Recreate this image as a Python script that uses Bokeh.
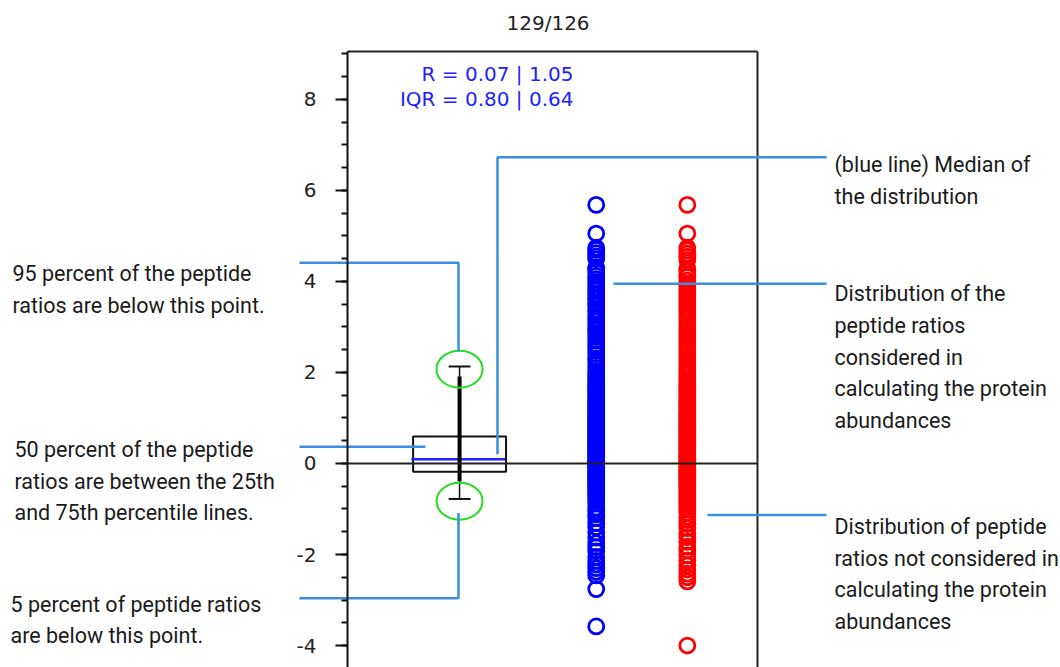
from bokeh.plotting import figure
from bokeh.models import Range1d, Label, FixedTicker, ColumnDataSource, LinearAxis
from bokeh.embed import file_html
from bokeh.resources import INLINE

# ---------------- data ----------------
title_text = "129/126"
stats_lines = ["R = 0.07 | 1.05", "IQR = 0.80 | 0.64"]

box_x = [1.0]
box_q1 = [-0.18]
box_q3 = [0.59]
box_median = [0.09]
box_p5 = [-0.78]
box_p95 = [2.13]
box_inner_lo = [-0.39]
box_inner_hi = [1.91]

considered_x = 2.5
considered = [5.68, 5.05, 4.74, 4.69, 4.62, 4.55, 4.49, 4.30, 4.27, 4.20, 4.12, 4.05,
              3.98, 3.93, 3.86, 3.80, 3.72, 3.65, 3.60, 3.52, 3.46, 3.38, 3.33, 3.25,
              3.18, 3.12, 3.05, 2.97, 2.92, 2.84, 2.78, 2.70, 2.62, 2.55, 2.48, 2.40,
              2.31, 2.25, 2.17, 2.10, 2.02, 1.96, 1.90, 1.85, 1.80, 1.74, 1.70, 1.65,
              1.61, 1.56, 1.52, 1.47, 1.43, 1.38, 1.34, 1.30, 1.26, 1.22, 1.18, 1.14,
              1.10, 1.06, 1.02, 0.98, 0.95, 0.91, 0.87, 0.84, 0.80, 0.77, 0.73, 0.70,
              0.66, 0.63, 0.59, 0.56, 0.52, 0.49, 0.45, 0.42, 0.38, 0.35, 0.31, 0.28,
              0.24, 0.21, 0.17, 0.14, 0.10, 0.07, 0.04, 0.01, -0.03, -0.06, -0.10,
              -0.13, -0.17, -0.20, -0.24, -0.27, -0.31, -0.35, -0.39, -0.43, -0.47,
              -0.52, -0.56, -0.61, -0.66, -0.71, -0.76, -0.82, -0.88, -0.97, -1.05,
              -1.12, -1.20, -1.31, -1.40, -1.52, -1.63, -1.75, -1.84, -1.93, -2.05,
              -2.14, -2.22, -2.30, -2.38, -2.46, -2.76, -3.58]

not_considered_x = 3.5
not_considered = [5.68, 5.05, 4.74, 4.68, 4.61, 4.54, 4.47, 4.28, 4.22, 4.15, 4.10, 4.02,
                  3.95, 3.90, 3.84, 3.77, 3.70, 3.64, 3.57, 3.50, 3.43, 3.37, 3.30, 3.22,
                  3.16, 3.09, 3.01, 2.94, 2.88, 2.80, 2.73, 2.66, 2.58, 2.51, 2.44, 2.37,
                  2.29, 2.22, 2.15, 2.08, 2.01, 1.95, 1.89, 1.83, 1.78, 1.73, 1.68, 1.63,
                  1.59, 1.54, 1.50, 1.45, 1.41, 1.36, 1.32, 1.28, 1.24, 1.20, 1.16, 1.12,
                  1.08, 1.04, 1.00, 0.96, 0.93, 0.89, 0.85, 0.82, 0.78, 0.75, 0.71, 0.68,
                  0.64, 0.61, 0.57, 0.54, 0.50, 0.47, 0.43, 0.40, 0.36, 0.33, 0.29, 0.26,
                  0.22, 0.19, 0.15, 0.12, 0.08, 0.05, 0.02, -0.02, -0.05, -0.09, -0.12,
                  -0.16, -0.19, -0.23, -0.26, -0.30, -0.33, -0.37, -0.41, -0.45, -0.49,
                  -0.53, -0.57, -0.62, -0.66, -0.71, -0.75, -0.80, -0.85, -0.90, -0.95,
                  -1.01, -1.08, -1.17, -1.24, -1.33, -1.42, -1.54, -1.62, -1.72, -1.83,
                  -1.91, -2.02, -2.13, -2.24, -2.33, -2.42, -2.50, -2.59, -4.00]

y_ticks = [-4, -2, 0, 2, 4, 6, 8]

left_notes = [["95 percent of the peptide", "ratios are below this point."],
              ["50 percent of the peptide", "ratios are between the 25th", "and 75th percentile lines."],
              ["5 percent of peptide ratios", "are below this point."]]
right_notes = [["(blue line) Median of", "the distribution"],
               ["Distribution of the", "peptide ratios", "considered in",
                "calculating the protein", "abundances"],
               ["Distribution of peptide", "ratios not considered in",
                "calculating the protein", "abundances"]]

# ---------------- layout constants ----------------
W, H = 1060, 667
TOP = 41                      # height of the title band
PX_X = 410 / 4.5              # pixels per x unit
PX_Y = 45.67                  # pixels per y unit
BOX_L, BOX_R, BOX_T = -0.23, 4.27, 9.05   # plot box (data units)
XL = BOX_L - 347 / PX_X       # data x at the left canvas edge
XR = XL + W / PX_X
YT = (462.3 - TOP) / PX_Y     # data y at top of frame
YB = YT - (H - TOP) / PX_Y    # data y at bottom of frame


def dx(px):
    return XL + px / PX_X


def dy(py):
    return YT - (py - TOP) / PX_Y


p = figure(width=W, height=H, output_backend="svg", toolbar_location=None,
           x_range=Range1d(XL, XR), y_range=Range1d(YB, YT),
           x_axis_location=None, y_axis_location=None,
           min_border_left=0, min_border_right=0, min_border_top=TOP, min_border_bottom=0,
           title=title_text)
p.outline_line_color = None
p.xgrid.visible = False
p.ygrid.visible = False
p.background_fill_color = "white"
p.border_fill_color = "white"

p.title.align = "left"
p.title.offset = 506
p.title.text_font = "DejaVu Sans"
p.title.text_font_size = "20px"
p.title.text_font_style = "normal"
p.title.text_color = "#222222"
p.title.standoff = 17

ax = LinearAxis(fixed_location=BOX_L, bounds=(YB, BOX_T))
ax.ticker = FixedTicker(ticks=y_ticks, minor_ticks=[v / 2 for v in range(-9, 19)])
ax.axis_line_width = 2
ax.axis_line_color = "#111111"
ax.major_tick_line_width = 2
ax.major_tick_line_color = "#111111"
ax.minor_tick_line_width = 2
ax.minor_tick_line_color = "#111111"
ax.major_tick_out = 12
ax.major_tick_in = 0
ax.minor_tick_out = 6
ax.minor_tick_in = 0
ax.major_label_text_font = "DejaVu Sans"
ax.major_label_text_font_size = "20px"
ax.major_label_text_color = "#222222"
ax.major_label_standoff = 19
ax.major_label_overrides = {t: str(t) for t in y_ticks}
p.add_layout(ax, "left")

# plot box top / right edges
p.segment(x0=[BOX_L, BOX_R], x1=[BOX_R, BOX_R], y0=[BOX_T, BOX_T],
          y1=[BOX_T, YB], line_color="#222222", line_width=2)

# scatter columns
p.scatter(x=[considered_x] * len(considered), y=considered, marker="circle", size=15,
          fill_color=None, line_color="#0000FF", line_width=2.8)
p.scatter(x=[not_considered_x] * len(not_considered), y=not_considered, marker="circle", size=15,
          fill_color=None, line_color="#FF0000", line_width=2.8)

# box plot
src = ColumnDataSource(dict(x=box_x, q1=box_q1, q3=box_q3, med=box_median, p5=box_p5,
                            p95=box_p95, lo=box_inner_lo, hi=box_inner_hi))
p.vbar(x="x", width=1.02, bottom="q1", top="q3", source=src, fill_color=None,
       line_color="#111111", line_width=2)
p.segment(x0=[b - 0.53 for b in box_x], x1=[b + 0.5 for b in box_x], y0=box_median, y1=box_median,
          line_color="#2222FF", line_width=2.5)
p.segment(x0="x", x1="x", y0="p5", y1="p95", source=src, line_color="#111111", line_width=1.5)
p.segment(x0="x", x1="x", y0="lo", y1="hi", source=src, line_color="#000000", line_width=4)
p.segment(x0=[b - 0.12 for b in box_x], x1=[b + 0.12 for b in box_x], y0=box_p95, y1=box_p95,
          line_color="#111111", line_width=2)
p.segment(x0=[b - 0.12 for b in box_x], x1=[b + 0.12 for b in box_x], y0=box_p5, y1=box_p5,
          line_color="#111111", line_width=2)
# zero line on top of the columns
p.segment(x0=[BOX_L], x1=[BOX_R], y0=[0], y1=[0], line_color="#222222", line_width=2)

# green highlight ellipses
p.ellipse(x=box_x * 2, y=[box_p95[0] - 0.06, box_p5[0] - 0.05], width=46, height=37,
          width_units="screen", height_units="screen", fill_color=None,
          line_color="#22DD22", line_width=2)

# stats text
for i, s in enumerate(stats_lines):
    p.add_layout(Label(x=dx(573), y=dy(71.5 + 25.5 * i), text=s, text_align="right",
                       text_baseline="middle", text_font="DejaVu Sans",
                       text_font_size="20px", text_color="#2222FF"))

# leader lines (page pixel anchors converted to data units)
LEAD = "#3A8EDC"
leaders = [
    [(299, 261), (458, 261), (458, 350)],
    [(299, 445.5), (425, 445.5)],
    [(299, 597.5), (458, 597.5), (458, 512)],
    [(826, 155), (497, 155), (497, 453)],
    [(826, 282), (613, 282)],
    [(826, 514), (707, 514)],
]
p.multi_line(xs=[[dx(a) for a, _ in l] for l in leaders],
             ys=[[dy(b) for _, b in l] for l in leaders],
             line_color=LEAD, line_width=2.5)

# note texts
LINE_H = 31.7
FS = "21.5px"
left_base = [271.7, 448.3, 603.3]
left_x = [12, 14, 10]
for lines, b, lx in zip(left_notes, left_base, left_x):
    for j, s in enumerate(lines):
        p.add_layout(Label(x=dx(lx), y=dy(b + LINE_H * j), text=s, text_align="left",
                           text_baseline="alphabetic", text_font="Roboto",
                           text_font_size=FS, text_color="#1A1A1A"))
right_base = [162.5, 292.3, 525.7]
for lines, b in zip(right_notes, right_base):
    for j, s in enumerate(lines):
        p.add_layout(Label(x=dx(834), y=dy(b + LINE_H * j), text=s, text_align="left",
                           text_baseline="alphabetic", text_font="Roboto",
                           text_font_size=FS, text_color="#1A1A1A"))

open("out.html", "w").write(file_html(p, INLINE))
